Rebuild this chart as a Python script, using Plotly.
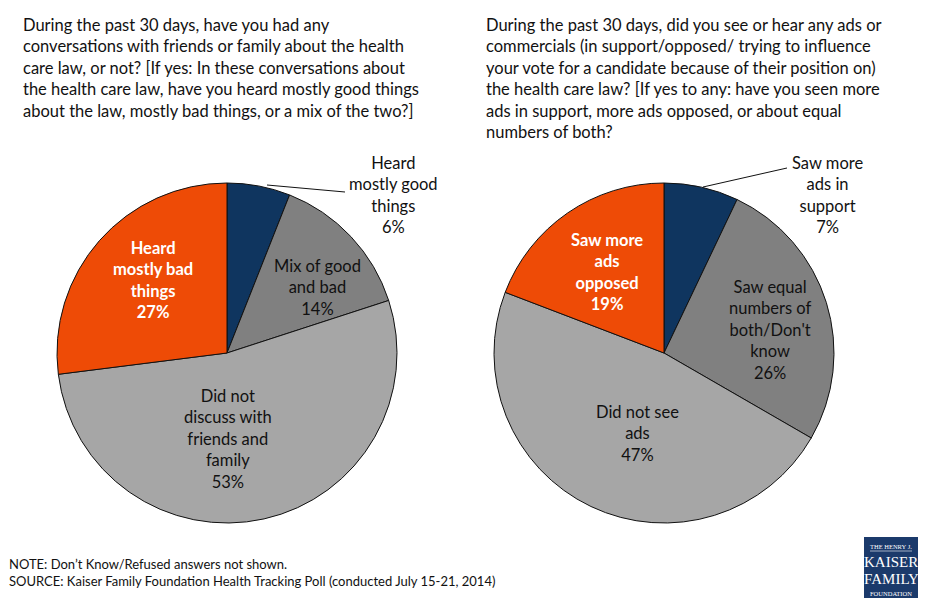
import plotly.graph_objects as go

W, H = 927, 604

# ---- data ----
left_labels = ["Heard mostly good things", "Mix of good and bad", "Did not discuss with friends and family", "Heard mostly bad things"]
left_values = [6, 14, 53, 27]
right_labels = ["Saw more ads in support", "Saw equal numbers of both/Don't know", "Did not see ads", "Saw more ads opposed"]
right_values = [7, 26, 47, 19]
colors = ["#0F355F", "#808080", "#A6A6A6", "#EE4B06"]

left_title = ("During the past 30 days, have you had any<br>conversations with friends or family about the health<br>"
              "care law, or not? [If yes: In these conversations about<br>the health care law, have you heard mostly good things<br>"
              "about the law, mostly bad things, or a mix of the two?]")
right_title = ("During the past 30 days, did you see or hear any ads or<br>commercials (in support/opposed/ trying to influence<br>"
               "your vote for a candidate because of their position on)<br>the health care law? [If yes to any: have you seen more<br>"
               "ads in support, more ads opposed, or about equal<br>numbers of both?")
note_text = "NOTE: Don\u2019t Know/Refused answers not shown.<br>SOURCE: Kaiser Family Foundation Health Tracking Poll (conducted July 15-21, 2014)"

FONT = "Lato"

def px(x):
    return x / W

def py(y):
    return 1 - y / H

def dom(cx, cy, r):
    return dict(x=[px(cx - r), px(cx + r)], y=[py(cy + r), py(cy - r)])

fig = go.Figure()
for vals, labs, (cx, cy) in [(left_values, left_labels, (227, 353)), (right_values, right_labels, (664, 353))]:
    fig.add_trace(go.Pie(
        values=vals, labels=labs, sort=False, direction="clockwise", rotation=0,
        marker=dict(colors=colors, line=dict(color="#111111", width=1)),
        textinfo="none", hoverinfo="label+percent", showlegend=False,
        domain=dom(cx, cy, 170),
    ))

annotations = []

def add_label(text, x, y, white=False, bold=False):
    annotations.append(dict(
        text=("<b>%s</b>" % text) if bold else text, x=px(x), y=py(y), xref="paper", yref="paper",
        xanchor="center", yanchor="middle", align="center", showarrow=False,
        font=dict(family=FONT, size=16.5, color="white" if white else "#111111"),
    ))

def pct(v):
    return "%d%%" % v

add_label("Heard<br>mostly good<br>things<br>" + pct(left_values[0]), 393, 195)
add_label("Mix of good<br>and bad<br>" + pct(left_values[1]), 317, 287)
add_label("Did not<br>discuss with<br>friends and<br>family<br>" + pct(left_values[2]), 228, 439)
add_label("Heard<br>mostly bad<br>things<br>" + pct(left_values[3]), 153, 280, white=True, bold=True)

add_label("Saw more<br>ads in<br>support<br>" + pct(right_values[0]), 827, 195)
add_label("Saw equal<br>numbers of<br>both/Don't<br>know<br>" + pct(right_values[1]), 770, 330)
add_label("Did not see<br>ads<br>" + pct(right_values[2]), 637, 433)
add_label("Saw more<br>ads<br>opposed<br>" + pct(right_values[3]), 607, 272, white=True, bold=True)

# titles
for txt, x in [(left_title, 21), (right_title, 484)]:
    annotations.append(dict(
        text=txt, x=px(x), y=py(13), xref="paper", yref="paper", xanchor="left", yanchor="top",
        align="left", showarrow=False, font=dict(family=FONT, size=16.5, color="#111111"),
    ))

# notes
annotations.append(dict(
    text=note_text, x=px(7), y=py(572), xref="paper", yref="paper", xanchor="left", yanchor="middle",
    align="left", showarrow=False, font=dict(family=FONT, size=13, color="#111111"),
))

# logo text
for txt, y, size in [("THE HENRY J.", 546, 6.5), ("KAISER", 562, 15), ("FAMILY", 579, 15), ("FOUNDATION", 593, 6.5)]:
    annotations.append(dict(
        text=txt, x=px(891), y=py(y), xref="paper", yref="paper", xanchor="center", yanchor="middle",
        showarrow=False, font=dict(family="Liberation Serif", size=size, color="white"),
    ))

shapes = [
    # leader lines
    dict(type="line", xref="paper", yref="paper", x0=px(267), y0=py(185), x1=px(345), y1=py(192),
         line=dict(color="#111111", width=1)),
    dict(type="line", xref="paper", yref="paper", x0=px(703), y0=py(187), x1=px(787), y1=py(168),
         line=dict(color="#111111", width=1)),
    # logo box
    dict(type="rect", xref="paper", yref="paper", x0=px(864), y0=py(598), x1=px(918), y1=py(537),
         fillcolor="#1B3A6B", line=dict(width=0)),
    dict(type="line", xref="paper", yref="paper", x0=px(870), y0=py(551), x1=px(912), y1=py(551),
         line=dict(color="white", width=0.6)),
]

fig.update_layout(
    width=W, height=H, margin=dict(l=0, r=0, t=0, b=0),
    paper_bgcolor="white", plot_bgcolor="white",
    annotations=annotations, shapes=shapes,
)

fig.write_html("out.html", config={"displayModeBar": False},
               post_script="document.body.style.margin='0';document.body.style.overflow='hidden';")
